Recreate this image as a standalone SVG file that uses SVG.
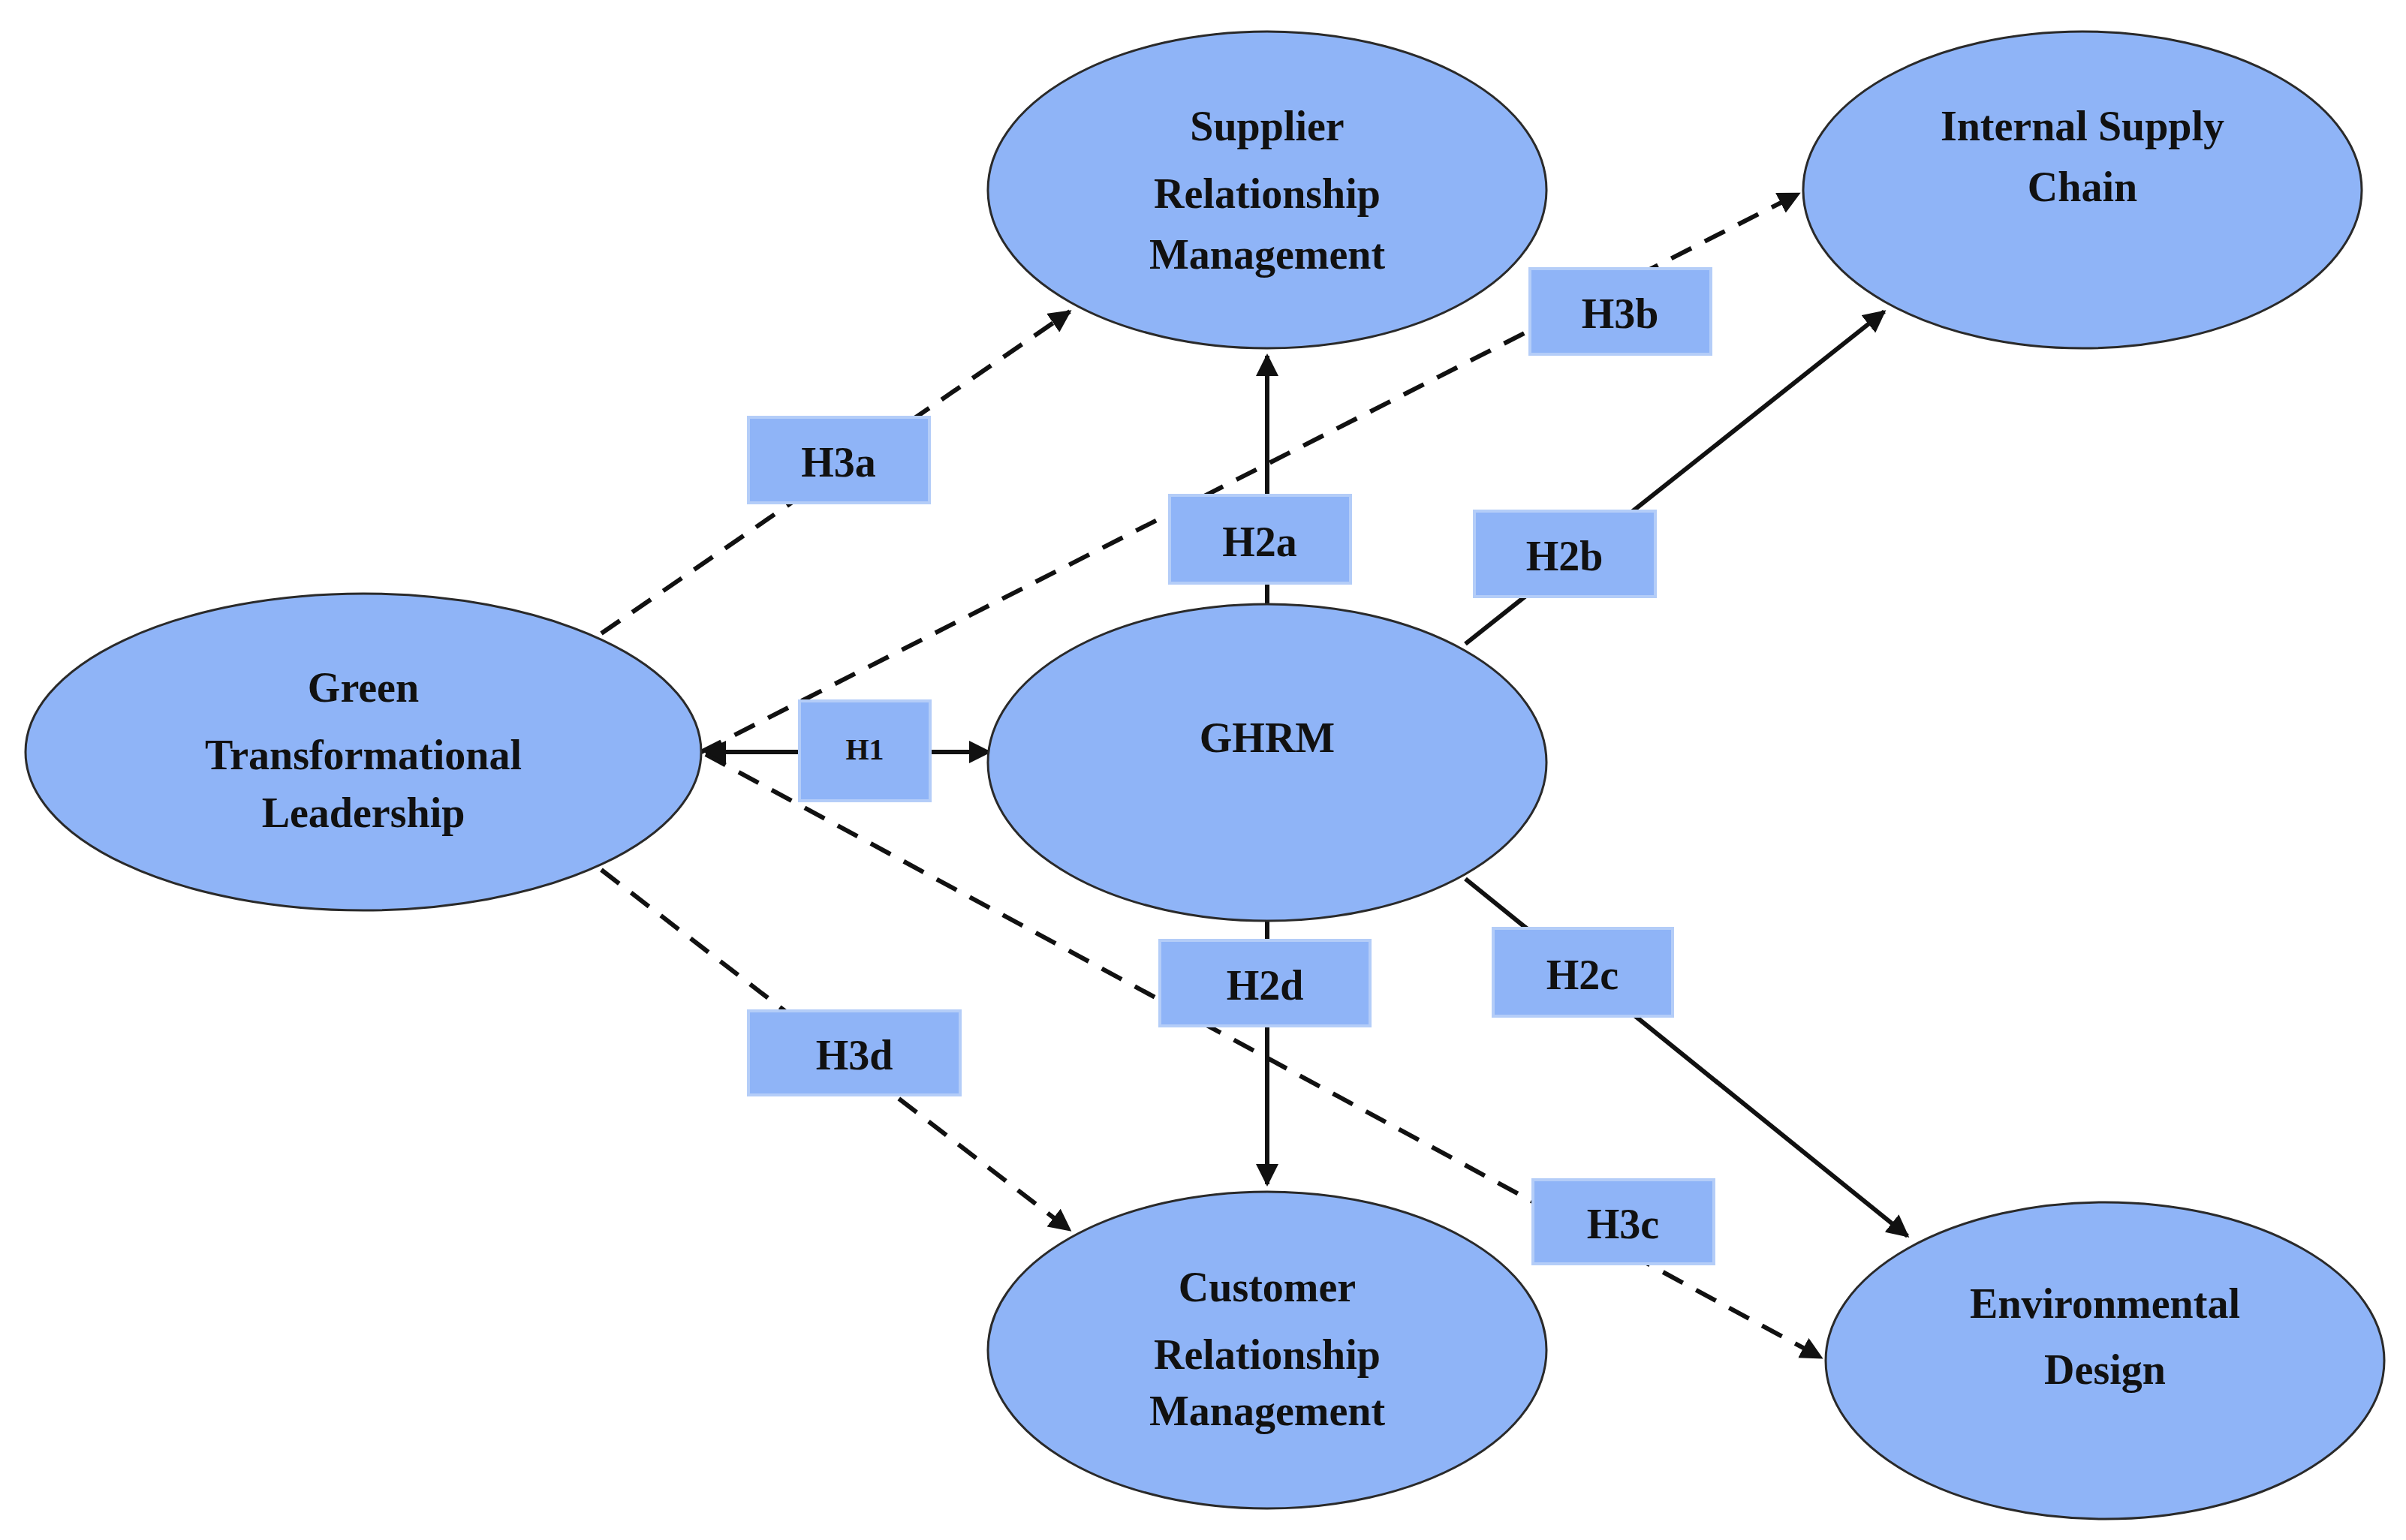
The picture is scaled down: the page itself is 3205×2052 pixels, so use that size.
<svg xmlns="http://www.w3.org/2000/svg" width="3205" height="2052" viewBox="0 0 3205 2052">
<style>
.n{fill:#8fb4f7;stroke:#2a2a2a;stroke-width:3}
.t{font-family:"Liberation Serif",serif;font-weight:bold;font-size:56px;fill:#111;text-anchor:middle;dominant-baseline:central}
.c{stroke:#111;stroke-width:6;fill:none;marker-end:url(#a)}
.d{stroke-dasharray:30 20}
.b{fill:#8fb4f7;stroke:#b4cdf8;stroke-width:4}
</style>
<defs><marker id="a" viewBox="0 0 10 10" refX="9" refY="5" markerWidth="5" markerHeight="5" orient="auto-start-reverse" markerUnits="strokeWidth"><path d="M0,0L10,5L0,10z" fill="#111"/></marker></defs>
<rect width="3205" height="2052" fill="#fff"/>
<g id="connectors">
<line class="c d" x1="801" y1="844" x2="1425" y2="415"/>
<line class="c d" x1="934" y1="1002" x2="2396" y2="258"/>
<line class="c" x1="940" y1="1002" x2="1318" y2="1002" marker-start="url(#a)"/>
<line class="c" x1="1688" y1="805" x2="1688" y2="474"/>
<line class="c" x1="1952" y1="858" x2="2510" y2="415"/>
<line class="c" x1="1952" y1="1171" x2="2541" y2="1647"/>
<line class="c" x1="1688" y1="1226" x2="1688" y2="1578"/>
<line class="c d" x1="801" y1="1159" x2="1425" y2="1639"/>
<line class="c d" x1="940" y1="1005" x2="2426" y2="1809"/>
</g>
<g id="SRM"><ellipse class="n" cx="1688" cy="253" rx="372" ry="211"/><text class="t" x="1688" y="168">Supplier</text><text class="t" x="1688" y="258">Relationship</text><text class="t" x="1688" y="339">Management</text></g>
<g id="ISC"><ellipse class="n" cx="2774" cy="253" rx="372" ry="211"/><text class="t" x="2774" y="168">Internal Supply</text><text class="t" x="2774" y="249">Chain</text></g>
<g id="GTL"><ellipse class="n" cx="484" cy="1002" rx="450" ry="211"/><text class="t" x="484" y="916">Green</text><text class="t" x="484" y="1006">Transformational</text><text class="t" x="484" y="1083">Leadership</text></g>
<g id="GHRM"><ellipse class="n" cx="1688" cy="1016" rx="372" ry="211"/><text class="t" x="1688" y="983">GHRM</text></g>
<g id="CRM"><ellipse class="n" cx="1688" cy="1799" rx="372" ry="211"/><text class="t" x="1688" y="1715">Customer</text><text class="t" x="1688" y="1805">Relationship</text><text class="t" x="1688" y="1880">Management</text></g>
<g id="ED"><ellipse class="n" cx="2804" cy="1813" rx="372" ry="211"/><text class="t" x="2804" y="1737">Environmental</text><text class="t" x="2804" y="1825">Design</text></g>
<g id="labels">
<rect class="b" x="997" y="556" width="241" height="114"/><text class="t" x="1117" y="616">H3a</text>
<rect class="b" x="2038" y="358" width="241" height="114"/><text class="t" x="2158" y="418">H3b</text>
<rect class="b" x="1558" y="660" width="241" height="117"/><text class="t" x="1678" y="722">H2a</text>
<rect class="b" x="1964" y="681" width="241" height="114"/><text class="t" x="2084" y="741">H2b</text>
<rect class="b" x="1065" y="934" width="174" height="133"/><text class="t" x="1152" y="998" style="font-size:40px">H1</text>
<rect class="b" x="1545" y="1253" width="280" height="114"/><text class="t" x="1685" y="1313">H2d</text>
<rect class="b" x="1989" y="1237" width="239" height="117"/><text class="t" x="2108" y="1299">H2c</text>
<rect class="b" x="997" y="1347" width="282" height="112"/><text class="t" x="1138" y="1406">H3d</text>
<rect class="b" x="2042" y="1572" width="241" height="112"/><text class="t" x="2162" y="1631">H3c</text>
</g>
</svg>
